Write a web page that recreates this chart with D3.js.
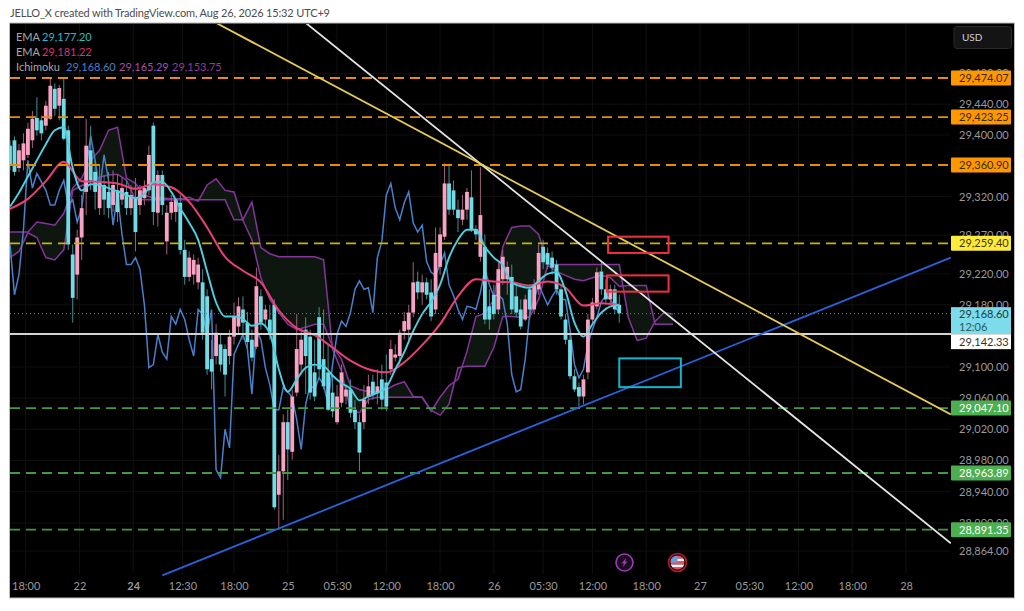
<!DOCTYPE html>
<html>
<head>
<meta charset="utf-8">
<title>JELLO_X chart</title>
<script src="https://cdn.jsdelivr.net/npm/d3@7"></script>
<style>
    html, body { margin: 0; padding: 0; background: #fff; overflow: hidden; }
    svg { display: block; }
    text { font-family: Lato, "Noto Sans", sans-serif; }
</style>
</head>
<body>
<svg id="chart" width="1024" height="611"></svg>
<script>
// Candles, one per two 15 minute bars
const candleOpen = [29386,29393,29357,29367,29374,29393,29422,29419,29412,29421,29460,29438,29447,29406,29245,29219,29267,29326,29380,29352,29305,29335,29326,29309,29328,29316,29326,29305,29318,29309,29318,29328,29412,29299,29348,29262,29299,29300,29312,29251,29216,29219,29209,29209,29191,29110,29114,29129,29123,29114,29139,29152,29174,29157,29135,29126,29191,29161,29161,29180,28936,28966,29029,28991,29067,29103,29148,29139,29093,29164,29110,29093,29067,29029,29054,29062,29071,29045,29029,29029,29062,29081,29066,29084,29080,29097,29112,29114,29146,29148,29170,29210,29196,29209,29196,29174,29229,29268,29337,29328,29303,29290,29303,29319,29278,29242,29255,29178,29193,29174,29213,29213,29216,29191,29174,29161,29200,29174,29200,29255,29247,29241,29232,29200,29161,29135,29088,29074,29062,29093,29161,29178,29223,29200,29187,29200,29180];
const candleClose = [29361,29352,29380,29389,29408,29421,29406,29402,29438,29464,29434,29461,29395,29258,29189,29267,29305,29386,29341,29326,29339,29316,29305,29335,29300,29331,29305,29322,29274,29328,29331,29374,29300,29348,29309,29299,29313,29316,29251,29216,29241,29238,29232,29144,29097,29094,29144,29103,29090,29139,29165,29178,29157,29132,29112,29204,29157,29174,29144,28920,28966,29029,28994,29062,29123,29135,29114,29067,29062,29097,29075,29045,29043,29062,29093,29071,29041,29029,28990,29058,29075,29065,29075,29058,29049,29123,29116,29144,29159,29170,29209,29196,29209,29193,29165,29247,29271,29337,29303,29303,29292,29303,29326,29277,29271,29296,29161,29161,29168,29226,29242,29229,29174,29170,29152,29187,29174,29206,29247,29235,29232,29228,29200,29165,29135,29088,29071,29062,29084,29161,29183,29222,29200,29187,29200,29174,29169];
const candleHigh = [29393,29398,29388,29402,29416,29431,29449,29425,29444,29473,29467,29465,29473,29412,29258,29277,29322,29421,29412,29367,29361,29348,29352,29354,29348,29344,29341,29335,29344,29335,29341,29386,29416,29354,29354,29309,29322,29318,29322,29264,29249,29245,29241,29226,29200,29135,29155,29142,29129,29148,29183,29190,29191,29171,29148,29228,29200,29180,29180,29187,28987,29039,29045,29071,29168,29148,29164,29148,29135,29177,29174,29129,29090,29077,29103,29077,29084,29058,29039,29077,29090,29090,29097,29103,29116,29135,29129,29148,29171,29180,29235,29223,29219,29215,29213,29280,29280,29363,29361,29341,29316,29322,29331,29354,29283,29358,29271,29200,29206,29236,29251,29236,29232,29206,29187,29193,29206,29213,29258,29264,29254,29249,29238,29206,29168,29142,29097,29080,29090,29168,29189,29228,29235,29213,29206,29206,29193];
const candleLow = [29354,29347,29352,29354,29370,29383,29399,29393,29406,29419,29425,29419,29393,29251,29157,29187,29238,29296,29328,29303,29296,29296,29292,29300,29287,29309,29296,29296,29249,29296,29309,29322,29283,29281,29296,29245,29290,29287,29245,29206,29210,29206,29200,29135,29090,29071,29103,29094,29062,29103,29129,29142,29135,29123,29107,29123,29148,29151,29135,28917,28891,28904,28955,28981,29062,29090,29065,29058,29056,29084,29071,29043,29035,29026,29048,29052,29035,29020,28966,29020,29052,29058,29052,29045,29043,29090,29107,29103,29135,29135,29164,29187,29180,29187,29159,29168,29219,29264,29296,29296,29274,29283,29290,29274,29264,29236,29155,29148,29161,29168,29206,29193,29168,29164,29148,29159,29161,29168,29193,29226,29226,29219,29193,29161,29129,29084,29068,29049,29052,29084,29155,29174,29193,29183,29180,29168,29157];

// Indicator lines
const emaFast = [29307,29325,29346,29367,29388,29406,29410,29357,29328,29336,29335,29331,29327,29322,29318,29323,29339,29339,29326,29305,29286,29264,29223,29183,29165,29165,29162,29153,29156,29143,29097,29068,29084,29099,29103,29101,29089,29079,29072,29057,29062,29067,29074,29097,29119,29146,29168,29184,29206,29241,29264,29277,29277,29255,29241,29231,29209,29204,29202,29211,29220,29222,29198,29157,29139,29155,29170,29178,29180];
const emaSlow = [29304,29317,29340,29365,29340,29339,29337,29330,29336,29332,29313,29280,29242,29224,29209,29173,29150,29141,29125,29108,29097,29093,29106,29128,29155,29191,29213,29210,29209,29205,29210,29202,29179,29182,29180];
const conversionLine = [29258,29193,29219,29277,29367,29331,29350,29339,29328,29309,29309,29328,29341,29309,29316,29287,29305,29354,29399,29367,29328,29374,29341,29283,29322,29271,29232,29232,29241,29226,29180,29099,29103,29142,29119,29110,29165,29155,29174,29161,29135,29114,29174,29168,29142,29174,28968,28958,29020,28996,29116,29129,29142,29123,29065,29148,29135,29099,29077,29045,29045,29074,29068,29061,29032,28994,29052,29077,29071,29086,29077,29052,29103,29142,29159,29152,29170,29200,29211,29200,29202,29170,29241,29262,29322,29337,29305,29290,29312,29326,29286,29274,29283,29236,29222,29218,29232,29247,29206,29192,29174,29161,29178,29177,29174,29196,29226,29206,29191,29193,29187,29155,29090,29068,29071,29110,29168,29187,29206,29193,29180,29191,29200,29187,29187,29148,29103,29086,29097,29129,29148,29164,29184,29192,29187,29177,29170];
const spanA = [29274,29274,29274,29287,29285,29283,29298,29331,29344,29367,29380,29406,29410,29344,29337,29322,29318,29318,29317,29317,29319,29314,29335,29343,29328,29326,29289,29264,29215,29187,29170,29155,29148,29151,29155,29155,29126,29110,29076,29071,29068,29068,29071,29077,29081,29062,29061,29043,29061,29076,29084,29120,29165,29169,29187,29255,29280,29282,29282,29271,29233,29232,29232,29232,29232,29232,29232,29232,29232,29164,29134,29137,29159,29170,29168];
const spanB = [29241,29249,29273,29267,29241,29238,29251,29328,29334,29340,29345,29348,29349,29341,29316,29316,29316,29316,29316,29316,29316,29316,29316,29316,29316,29290,29290,29313,29254,29246,29242,29242,29242,29242,29242,29238,29123,29094,29045,29041,29058,29061,29061,29061,29061,29061,29061,29044,29038,29052,29099,29101,29101,29101,29125,29165,29165,29164,29164,29187,29231,29223,29218,29213,29211,29215,29218,29215,29204,29205,29205,29205,29155,29155,29155];

// Horizontal levels
const orangeLevels = [29474.07, 29423.25, 29360.90];
const yellowLevels = [29259.40];
const greenLevels = [29047.10, 28963.89, 28891.35];
const whiteLevel = 29142.33;
const lastPrice = 29168.60;
const countdown = '12:06';

// Trend lines as [bar, price]
const yellowTrend = [[92, 29546], [420, 29039]];
const whiteTrend = [[132, 29546], [420, 28874]];
const blueTrend = [[68, 28833], [420, 29241]];

// Boxes as [bar, bar, price, price]
const redBoxes = [[267, 294, 29268, 29247], [266.5, 294, 29218, 29197]];
const cyanBoxes = [[272, 299.5, 29111, 29074]];

// Axis ticks
const priceTicks = [29480, 29440, 29400, 29320, 29270, 29220, 29180, 29100, 29060, 29020, 28980, 28940, 28900, 28864];
const timeTickBars = [7, 31, 55, 77, 100, 124, 146, 168, 192, 216, 238, 260, 284, 308, 330, 352, 376, 400];
const timeTickLabels = ['18:00', '22', '24', '12:30', '18:00', '25', '05:30', '12:00', '18:00', '26', '05:30', '12:00', '18:00', '27', '05:30', '12:00', '18:00', '28'];

// Legend
const legendRows = [
    { name: 'EMA', values: ['29,177.20'], colors: ['#2fb8c6'] },
    { name: 'EMA', values: ['29,181.22'], colors: ['#d9336b'] },
    { name: 'Ichimoku', values: ['29,168.60', '29,165.29', '29,153.75'], colors: ['#4a7fc9', '#a04fb4', '#8e3d9e'] }
];

const titleText = 'JELLO_X created with TradingView.com, Aug 26, 2026 15:32 UTC+9';

const COLORS = {
    up: '#f7a3c4', down: '#72dbe6', upWick: '#a0607a', downWick: '#3f8f94',
    emaFast: '#4fd0e0', emaSlow: '#ec3f76', conversion: '#4a7fc9', span: '#85359a', cloud: '#0d1710',
    orange: '#e58e00', yellow: '#c9b013', green: '#3f9a43',
    tick: '#9a9a9a', grid: '#101010'
};

// Scales
const x = d3.scaleLinear().domain([0, 420]).range([10, 950.8]);
const y = d3.scaleLog().domain([28891.35, 29474.07]).range([529.7, 78]);

const svg = d3.select('#chart');
const money = d3.format(',.2f');

svg.append('text').attr('x', 10).attr('y', 17).attr('font-size', 11)
    .attr('textLength', 320).attr('lengthAdjust', 'spacing')
    .attr('fill', '#4d4d4d').text(titleText);

svg.append('rect').attr('x', 9.5).attr('y', 23).attr('width', 1005).attr('height', 575)
    .attr('fill', '#000').attr('stroke', '#bdbdbd').attr('stroke-width', 1);

svg.append('defs').append('clipPath').attr('id', 'plot-clip')
    .append('rect').attr('x', 10).attr('y', 24).attr('width', 941).attr('height', 553);

const plot = svg.append('g').attr('clip-path', 'url(#plot-clip)');

// Grid
plot.append('g').selectAll('line').data(timeTickBars).enter().append('line')
    .attr('x1', d => x(d)).attr('x2', d => x(d)).attr('y1', 24).attr('y2', 574)
    .attr('stroke', COLORS.grid);
plot.append('g').selectAll('line').data(priceTicks).enter().append('line')
    .attr('x1', 10).attr('x2', 951).attr('y1', d => y(d)).attr('y2', d => y(d))
    .attr('stroke', COLORS.grid);

// Ichimoku cloud and span lines
const spanBar = i => i * 4;
const spanRows = spanA.map((a, i) => ({ bar: spanBar(i), a: a, b: spanB[i] }));

plot.append('path').datum(spanRows)
    .attr('fill', COLORS.cloud)
    .attr('d', d3.area().x(d => x(d.bar)).y0(d => y(d.a)).y1(d => y(d.b)));

[spanA, spanB].forEach(values => {
    plot.append('path').datum(values)
        .attr('fill', 'none').attr('stroke', COLORS.span).attr('stroke-width', 1.5)
        .attr('d', d3.line().x((d, i) => x(spanBar(i))).y(d => y(d)));
});

// Conversion line sits under the candles
plot.append('path').datum(conversionLine)
    .attr('fill', 'none').attr('stroke', COLORS.conversion).attr('stroke-width', 1.5)
    .attr('d', d3.line().x((d, i) => x(i * 2)).y(d => y(d)));

// Candles
const candles = candleOpen.map((o, i) => ({
    bar: i * 2, open: o, close: candleClose[i], high: candleHigh[i], low: candleLow[i]
}));
const rising = d => d.close >= d.open;

const candle = plot.append('g').selectAll('g').data(candles).enter().append('g');
candle.append('line')
    .attr('x1', d => x(d.bar)).attr('x2', d => x(d.bar))
    .attr('y1', d => y(d.high)).attr('y2', d => y(d.low))
    .attr('stroke', d => rising(d) ? COLORS.upWick : COLORS.downWick)
    .attr('stroke-width', 1);
candle.append('rect')
    .attr('x', d => x(d.bar) - 1.9).attr('width', 3.8)
    .attr('y', d => y(Math.max(d.open, d.close)))
    .attr('height', d => Math.max(1, y(Math.min(d.open, d.close)) - y(Math.max(d.open, d.close))))
    .attr('fill', d => rising(d) ? COLORS.up : COLORS.down);

// EMAs
plot.append('path').datum(emaSlow)
    .attr('fill', 'none').attr('stroke', COLORS.emaSlow).attr('stroke-width', 2)
    .attr('stroke-linejoin', 'round')
    .attr('d', d3.line().curve(d3.curveMonotoneX).x((d, i) => x(i * 8)).y(d => y(d)));
plot.append('path').datum(emaFast)
    .attr('fill', 'none').attr('stroke', COLORS.emaFast).attr('stroke-width', 1.9)
    .attr('stroke-linejoin', 'round')
    .attr('d', d3.line().curve(d3.curveMonotoneX).x((d, i) => x(i * 4)).y(d => y(d)));

// Last price dotted line
plot.append('line')
    .attr('x1', 10).attr('x2', 951).attr('y1', y(lastPrice)).attr('y2', y(lastPrice))
    .attr('stroke', '#5c8f94').attr('stroke-dasharray', '1,3');

// Levels
function drawLevels(levels, color) {
    plot.append('g').selectAll('line').data(levels).enter().append('line')
        .attr('x1', 10).attr('x2', 951).attr('y1', d => y(d)).attr('y2', d => y(d))
        .attr('stroke', color).attr('stroke-width', 1.8).attr('stroke-dasharray', '10,6');
}
drawLevels(orangeLevels, COLORS.orange);
drawLevels(yellowLevels, COLORS.yellow);
drawLevels(greenLevels, COLORS.green);

plot.append('line')
    .attr('x1', 10).attr('x2', 951).attr('y1', y(whiteLevel)).attr('y2', y(whiteLevel))
    .attr('stroke', '#d4d4d4').attr('stroke-width', 2);

// Trend lines
function drawTrend(points, color) {
    plot.append('line')
        .attr('x1', x(points[0][0])).attr('y1', y(points[0][1]))
        .attr('x2', x(points[1][0])).attr('y2', y(points[1][1]))
        .attr('stroke', color).attr('stroke-width', 1.8);
}
drawTrend(blueTrend, '#2a62dc');
drawTrend(whiteTrend, '#e4e4e4');
drawTrend(yellowTrend, '#e6cc55');

// Boxes
function drawBoxes(boxes, color) {
    plot.append('g').selectAll('rect').data(boxes).enter().append('rect')
        .attr('x', d => x(d[0])).attr('width', d => x(d[1]) - x(d[0]))
        .attr('y', d => y(d[2])).attr('height', d => y(d[3]) - y(d[2]))
        .attr('fill', 'none').attr('stroke', color).attr('stroke-width', 2);
}
drawBoxes(redBoxes, '#ef2f42');
drawBoxes(cyanBoxes, '#12b5cb');

// Time axis
const timeAxis = d3.axisBottom(x).tickValues(timeTickBars).tickSize(0).tickPadding(0)
    .tickFormat((d, i) => timeTickLabels[i]);
const timeG = svg.append('g').attr('transform', 'translate(0,582)').call(timeAxis);
timeG.select('.domain').remove();
timeG.selectAll('text')
    .attr('fill', COLORS.tick).attr('font-size', 11)
    .attr('font-weight', d => d === 55 ? 700 : 400)
    .style('font-family', 'Lato, "Noto Sans", sans-serif');

// Price axis
const priceAxis = d3.axisRight(y).tickValues(priceTicks).tickSize(0).tickPadding(0)
    .tickFormat(money);
const priceG = svg.append('g').attr('transform', 'translate(959,0)').call(priceAxis);
priceG.select('.domain').remove();
priceG.selectAll('text')
    .attr('fill', COLORS.tick).attr('font-size', 11)
    .style('font-family', 'Lato, "Noto Sans", sans-serif');

// Price labels
function drawPriceLabels(levels, fill, textColor) {
    const g = svg.append('g').selectAll('g').data(levels).enter().append('g');
    g.append('rect')
        .attr('x', 951).attr('y', d => y(d) - 7.5).attr('width', 60).attr('height', 15)
        .attr('rx', 1).attr('fill', fill);
    g.append('text')
        .attr('x', 959).attr('y', d => y(d)).attr('dy', '0.36em')
        .attr('font-size', 11).attr('fill', textColor).text(d => money(d));
}
drawPriceLabels(orangeLevels, '#ff9800', '#3a2a00');
drawPriceLabels(yellowLevels, '#ffeb3b', '#3a3500');
drawPriceLabels(greenLevels, '#4caf50', '#fff');

// Last price and white level labels
svg.append('rect').attr('x', 951).attr('y', y(lastPrice) - 6.5).attr('width', 60).attr('height', 27)
    .attr('fill', '#7cdceb');
svg.append('text').attr('x', 959).attr('y', y(lastPrice)).attr('dy', '0.36em')
    .attr('font-size', 11).attr('fill', '#1c3a40').text(money(lastPrice));
svg.append('text').attr('x', 959).attr('y', y(lastPrice) + 13).attr('dy', '0.36em')
    .attr('font-size', 11).attr('fill', '#2c5a62').text(countdown);
svg.append('rect').attr('x', 951).attr('y', y(lastPrice) + 20.5).attr('width', 60).attr('height', 15)
    .attr('fill', '#fff');
svg.append('text').attr('x', 959).attr('y', y(lastPrice) + 28).attr('dy', '0.36em')
    .attr('font-size', 11).attr('fill', '#333').text(money(whiteLevel));

// Currency button
svg.append('rect').attr('x', 954).attr('y', 26.5).attr('width', 57.5).attr('height', 22).attr('rx', 3)
    .attr('fill', '#141414').attr('stroke', '#2a2a2a');
svg.append('text').attr('x', 962).attr('y', 41).attr('font-size', 10).attr('fill', '#d0d0d0').text('USD');

// Legend
const legendX = [[42], [42], [66, 119, 172]];
legendRows.forEach((row, r) => {
    const rowY = 37 + r * 15;
    svg.append('text').attr('x', 16).attr('y', rowY).attr('dy', '0.36em')
        .attr('font-size', 11).attr('fill', '#a8a8a8').text(row.name);
    row.values.forEach((v, i) => {
        svg.append('text').attr('x', legendX[r][i]).attr('y', rowY).attr('dy', '0.36em')
            .attr('font-size', 11).attr('fill', row.colors[i]).text(v);
    });
});

// Event icons
const bolt = svg.append('g').attr('transform', 'translate(624.5,562.5)');
bolt.append('circle').attr('r', 8.5).attr('fill', '#1a0b20').attr('stroke', '#9a3fb0').attr('stroke-width', 1.6);
bolt.append('path').attr('d', 'M2,-5 L-3,1 L-0.5,1 L-2,5 L3,-1 L0.5,-1 Z').attr('fill', '#9a3fb0');

const flag = svg.append('g').attr('transform', 'translate(677.5,562.5)');
flag.append('circle').attr('r', 9).attr('fill', '#2a0a10').attr('stroke', '#a81d30').attr('stroke-width', 1.6);
flag.append('clipPath').attr('id', 'flag-clip').append('circle').attr('r', 7);
const flagInner = flag.append('g').attr('clip-path', 'url(#flag-clip)');
[-7, -4, -1, 2, 5].forEach((top, i) => {
    flagInner.append('rect').attr('x', -7).attr('y', top).attr('width', 14).attr('height', 3)
        .attr('fill', i % 2 ? '#f4f4f4' : '#e8505b');
});
flagInner.append('rect').attr('x', -7).attr('y', -7).attr('width', 7).attr('height', 7).attr('fill', '#6a9be0');
</script>
</body>
</html>
